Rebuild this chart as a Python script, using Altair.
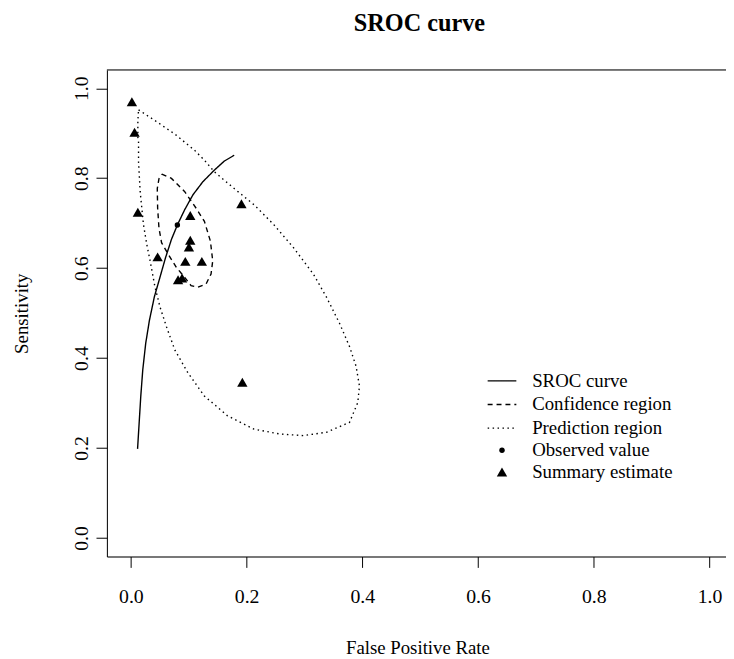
import altair as alt
import pandas as pd

# ---- data ----
study_fpr = [0.0017, 0.0063, 0.0120, 0.0462, 0.0815, 0.0884, 0.0940, 0.1003, 0.1026, 0.1026, 0.1226, 0.1910, 0.1926]
study_sens = [0.970, 0.902, 0.724, 0.625, 0.574, 0.578, 0.615, 0.647, 0.662, 0.717, 0.615, 0.743, 0.346]

obs_fpr = [0.0803]
obs_sens = [0.696]

sroc_fpr = [0.0115, 0.0143, 0.0171, 0.0205, 0.0256, 0.0320, 0.0405, 0.0503, 0.0598, 0.0701,
            0.0803, 0.0930, 0.1072, 0.1243, 0.1443, 0.1614, 0.1785]
sroc_sens = [0.198, 0.257, 0.316, 0.374, 0.433, 0.484, 0.536, 0.580, 0.623, 0.664,
             0.696, 0.730, 0.763, 0.792, 0.818, 0.838, 0.851]

conf_fpr = [0.0534, 0.0701, 0.0930, 0.1128, 0.1270, 0.1374, 0.1414, 0.1385, 0.1300, 0.1157,
            0.1040, 0.0930, 0.0786, 0.0644, 0.0530, 0.0485, 0.0462, 0.0456, 0.0485, 0.0534]
conf_sens = [0.809, 0.7995, 0.770, 0.733, 0.704, 0.660, 0.616, 0.587, 0.565, 0.5575,
             0.561, 0.5795, 0.6015, 0.631, 0.6565, 0.689, 0.733, 0.777, 0.799, 0.809]

pred_fpr = [0.0132, 0.0246, 0.0417, 0.0588, 0.0759, 0.0930, 0.1100, 0.1270, 0.1357, 0.1443,
            0.1785, 0.2127, 0.2468, 0.2810, 0.3152, 0.3380, 0.3607, 0.3778, 0.3892, 0.3950,
            0.3921, 0.3778, 0.3380, 0.2980, 0.2580, 0.2127, 0.1670, 0.1270, 0.0986, 0.0759,
            0.0615, 0.0503, 0.0417, 0.0332, 0.0274, 0.0217, 0.0160, 0.0132, 0.0132, 0.0120,
            0.0120, 0.0132]
pred_sens = [0.952, 0.9424, 0.928, 0.913, 0.898, 0.880, 0.862, 0.840, 0.827, 0.814,
             0.777, 0.741, 0.697, 0.6455, 0.587, 0.5355, 0.477, 0.4256, 0.3816, 0.3376,
             0.301, 0.257, 0.235, 0.2276, 0.231, 0.242, 0.2716, 0.3156, 0.367, 0.418,
             0.4695, 0.5135, 0.5575, 0.616, 0.653, 0.697, 0.770, 0.836, 0.880, 0.891,
             0.928, 0.952]

line_labels = ["SROC curve", "Confidence region", "Prediction region"]
point_labels = ["Observed value", "Summary estimate"]
x_ticks = [0.0, 0.2, 0.4, 0.6, 0.8, 1.0]
y_ticks = [0.0, 0.2, 0.4, 0.6, 0.8, 1.0]

# ---- tables ----
def line_df(xs, ys, label):
    return pd.DataFrame({"fpr": xs, "sens": ys, "idx": list(range(len(xs))), "series": label})

lines_df = pd.concat([
    line_df(sroc_fpr, sroc_sens, line_labels[0]),
    line_df(conf_fpr, conf_sens, line_labels[1]),
    line_df(pred_fpr, pred_sens, line_labels[2]),
], ignore_index=True)

pts_df = pd.DataFrame({
    "fpr": obs_fpr + study_fpr,
    "sens": obs_sens + study_sens,
    "series": [point_labels[0]] * len(obs_fpr) + [point_labels[1]] * len(study_fpr),
})

FONT = "Liberation Serif"
W, H = 626, 492
LEG_X, LEG_Y = 390, 305
xscale = alt.Scale(domain=[-0.0415, 1.0285], nice=False, zero=False)
yscale = alt.Scale(domain=[-0.0413, 1.0407], nice=False, zero=False)

xaxis = alt.Axis(values=x_ticks, format=".1f", grid=False, tickSize=11, labelPadding=35,
                 labelBaseline="alphabetic", labelFontSize=20, labelFont=FONT, labelColor="black",
                 domainColor="black", tickColor="black", title="False Positive Rate",
                 titleFont=FONT, titleFontSize=19, titleFontWeight="normal", titleColor="black",
                 titleX=314, titleY=98, titleAlign="center", titleBaseline="alphabetic",
                 labelFlush=False)
yaxis = alt.Axis(values=y_ticks, format=".1f", grid=False, tickSize=11, labelPadding=9,
                 labelAngle=270, labelAlign="center", labelBaseline="alphabetic",
                 labelFontSize=20, labelFont=FONT, labelColor="black",
                 domainColor="black", tickColor="black", title="Sensitivity",
                 titleFont=FONT, titleFontSize=19, titleFontWeight="normal", titleColor="black",
                 titleX=-80, titleY=246, titleAngle=270, titleAlign="center",
                 titleBaseline="alphabetic", labelFlush=False)

X = alt.X("fpr:Q", scale=xscale, axis=xaxis)
Y = alt.Y("sens:Q", scale=yscale, axis=yaxis)

common_leg = dict(title=None, orient="none", labelFont=FONT, labelFontSize=19,
                  labelColor="black", labelOffset=21, labelLimit=400,
                  padding=0, symbolStrokeColor="black", symbolStrokeWidth=1.3)

LINE = "M-2.9,0H2.9"
lines = alt.Chart(lines_df).mark_line(color="black", strokeWidth=1.4).encode(
    x=X, y=Y, order="idx:Q",
    strokeDash=alt.StrokeDash(
        "series:N",
        scale=alt.Scale(domain=line_labels, range=[[1, 0], [5, 4], [1.5, 3.5]]),
        legend=alt.Legend(legendX=LEG_X, legendY=LEG_Y, symbolType=LINE, symbolSize=100,
                          rowPadding=3.8, **common_leg),
    ),
)

pt_legend = alt.Legend(legendX=LEG_X, legendY=LEG_Y + 70, symbolFillColor="black",
                       rowPadding=2.0, **common_leg)
pts = alt.Chart(pts_df).mark_point(filled=True, color="black", opacity=1).encode(
    x=X, y=Y,
    shape=alt.Shape("series:N", scale=alt.Scale(domain=point_labels,
                    range=["circle", "triangle-up"]), legend=pt_legend),
    size=alt.Size("series:N", scale=alt.Scale(type="ordinal", domain=point_labels,
                  range=[30, 110]), legend=pt_legend),
)

top_border = alt.Chart(pd.DataFrame({"v": [0]})).mark_rule(color="black", strokeWidth=1).encode(
    x=alt.value(0), x2=alt.value(W), y=alt.value(0))

chart = alt.layer(top_border, lines, pts).properties(
    width=W, height=H,
    title=alt.TitleParams("SROC curve", font=FONT, fontSize=24.5, fontWeight="bold",
                          color="black", anchor="middle", dx=3, offset=33),
    padding={"left": 100, "top": 59, "right": 0, "bottom": 100},
    autosize=alt.AutoSizeParams(type="none"),
).configure_view(stroke=None).configure(font=FONT, background="white")

chart.save("out.html", embed_options={"renderer": "svg", "actions": False})
